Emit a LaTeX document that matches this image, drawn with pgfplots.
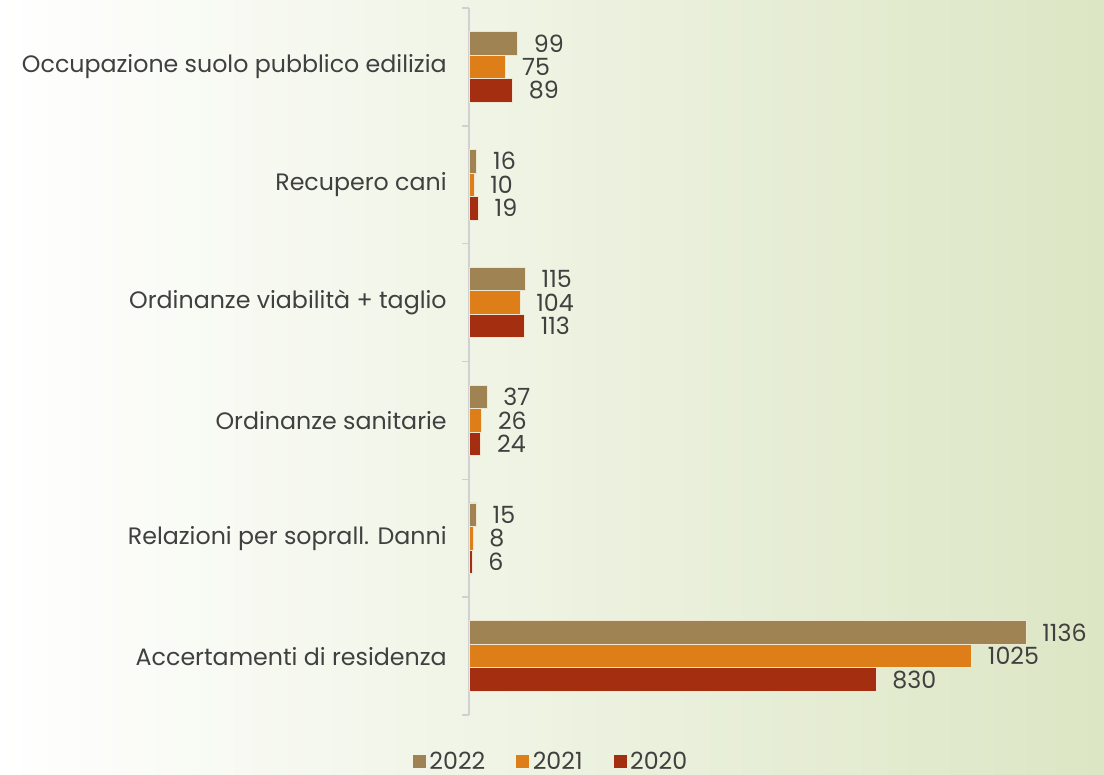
\documentclass[border=0pt]{standalone}
\usepackage{pgfplots}
\pgfplotsset{compat=1.18}
\usepackage{fontspec}
\setmainfont{Poppins}
\definecolor{c22}{HTML}{A08352}
\definecolor{c21}{HTML}{DD7E18}
\definecolor{c20}{HTML}{A42E10}
\definecolor{txt}{HTML}{404040}
\definecolor{bgg}{HTML}{DCE6C4}
\definecolor{axl}{HTML}{D0D0D0}
\definecolor{edge}{HTML}{EFE6D2}

\begin{document}
\begin{tikzpicture}
\useasboundingbox (0,0) rectangle (22.08,15.5);
\shade[left color=white, right color=bgg] (0,0) rectangle (22.08,15.5);
\begin{axis}[
  at={(9.38cm,1.2cm)}, anchor=south west,
  scale only axis, width=12.748cm, height=14.14cm,
  xbar, bar width=0.47cm,
  xmin=0, xmax=1300, ymin=-0.5, ymax=5.5,
  hide x axis, axis y line*=left,
  y axis line style={axl, line width=0.8pt},
  ytick={0,...,5},
  yticklabels={Accertamenti di residenza, Relazioni per soprall. Danni, Ordinanze sanitarie, Ordinanze viabilità + taglio, Recupero cani, Occupazione suolo pubblico edilizia},
  major tick length=0pt,
  yticklabel style={font=\fontsize{13.5}{15}\selectfont, text=txt, inner sep=0pt, xshift=-0.44cm},
  extra y ticks={-0.5,0.5,1.5,2.5,3.5,4.5,5.5},
  extra y tick labels={},
  extra y tick style={major tick length=0.14cm, tick align=outside, tick style={axl, line width=0.8pt}},
  point meta=x,
  nodes near coords,
  /pgf/number format/.cd, assume math mode=true, 1000 sep={}, /pgfplots/.cd,
  every node near coord/.append style={font=\fontsize{13.5}{15}\selectfont, text=txt, anchor=west, inner sep=0pt, xshift=0.32cm},
  reverse legend,
  legend style={at={(0.130,-0.066)}, anchor=center, draw=none, fill=none, legend columns=3,
    font=\fontsize{13.5}{15}\selectfont, text=txt,
    /tikz/every even column/.append style={column sep=0.55cm}},
  legend image code/.code={\draw[#1, draw=none] (0cm,-0.13cm) rectangle (0.26cm,0.13cm);},
]
\addplot[fill=c20, draw=edge, line width=0.4pt, bar shift=-0.47cm] coordinates {(830,0) (6,1) (24,2) (113,3) (19,4) (89,5)};
\addplot[fill=c21, draw=edge, line width=0.4pt, bar shift=0cm] coordinates {(1025,0) (8,1) (26,2) (104,3) (10,4) (75,5)};
\addplot[fill=c22, draw=edge, line width=0.4pt, bar shift=0.47cm] coordinates {(1136,0) (15,1) (37,2) (115,3) (16,4) (99,5)};
\legend{2020,2021,2022}
\end{axis}
\end{tikzpicture}
\end{document}
